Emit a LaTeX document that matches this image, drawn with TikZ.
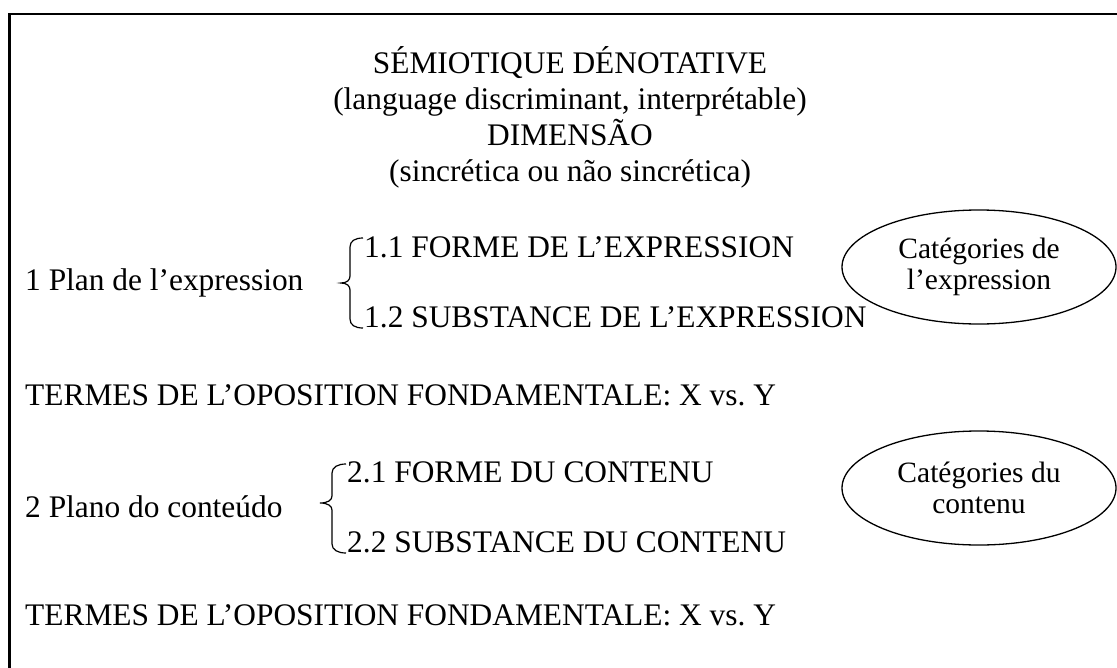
\documentclass[tikz,border=0pt]{standalone}
\usepackage{fontspec}
\setmainfont{Liberation Serif}
\usetikzlibrary{shapes.geometric}
\begin{document}
\begin{tikzpicture}[x=1pt,y=-1pt,
  txt/.style={inner sep=0pt,font=\fontsize{31.4}{36}\selectfont},
  hdr/.style={txt,anchor=base},
  lft/.style={txt,anchor=base west},
  cat/.style={draw,ellipse,line width=1.3pt,minimum width=274pt,minimum height=114pt,
    inner sep=0pt,align=center,font=\fontsize{29.5}{31}\selectfont},
  brace/.style={line width=1.2pt},
  frame/.style={line width=2.6pt}]
\useasboundingbox (0,0) rectangle (1117,667);
\clip (0,0) rectangle (1117,667);
\draw[frame] (9.5,700) -- (9.5,14) -- (1140,14);
% header
\node[hdr] (h1) at (570,73) {SÉMIOTIQUE DÉNOTATIVE};
\node[hdr] (h2) at (570,109) {(language discriminant, interprétable)};
\node[hdr] (h3) at (570,145) {DIMENSÃO};
\node[hdr] (h4) at (570,181) {(sincrética ou não sincrética)};
% block 1
\node[lft] (p1) at (25,290) {1 Plan de l’expression};
\node[lft] (p11) at (364,257) {1.1 FORME DE L’EXPRESSION};
\node[lft] (p12) at (364,327) {1.2 SUBSTANCE DE L’EXPRESSION};
\draw[brace] (363,238) .. controls (355,238) and (350,241) .. (350,247) -- (350,276)
  .. controls (350,280) and (347,283) .. (341,283)
  .. controls (347,283) and (350,286) .. (350,290) -- (350,319)
  .. controls (350,325) and (355,328) .. (363,328);
\node[cat] (c1) at (979,267) {Catégories de\\l’expression};
\node[lft] (t1) at (25,405) {TERMES DE L’OPOSITION FONDAMENTALE: X vs.\ Y};
% block 2
\node[lft] (p2) at (25,517) {2 Plano do conteúdo};
\node[lft] (p21) at (347,482) {2.1 FORME DU CONTENU};
\node[lft] (p22) at (347,552) {2.2 SUBSTANCE DU CONTENU};
\draw[brace] (346,464) .. controls (338,464) and (332,467) .. (332,473) -- (332,496)
  .. controls (332,500) and (328,503) .. (320,503)
  .. controls (328,503) and (332,506) .. (332,510) -- (332,544)
  .. controls (332,550) and (338,553) .. (346,553);
\node[cat] (c2) at (979,488) {Catégories du\\contenu};
\node[lft] (t2) at (25,625) {TERMES DE L’OPOSITION FONDAMENTALE: X vs.\ Y};
\end{tikzpicture}
\end{document}
